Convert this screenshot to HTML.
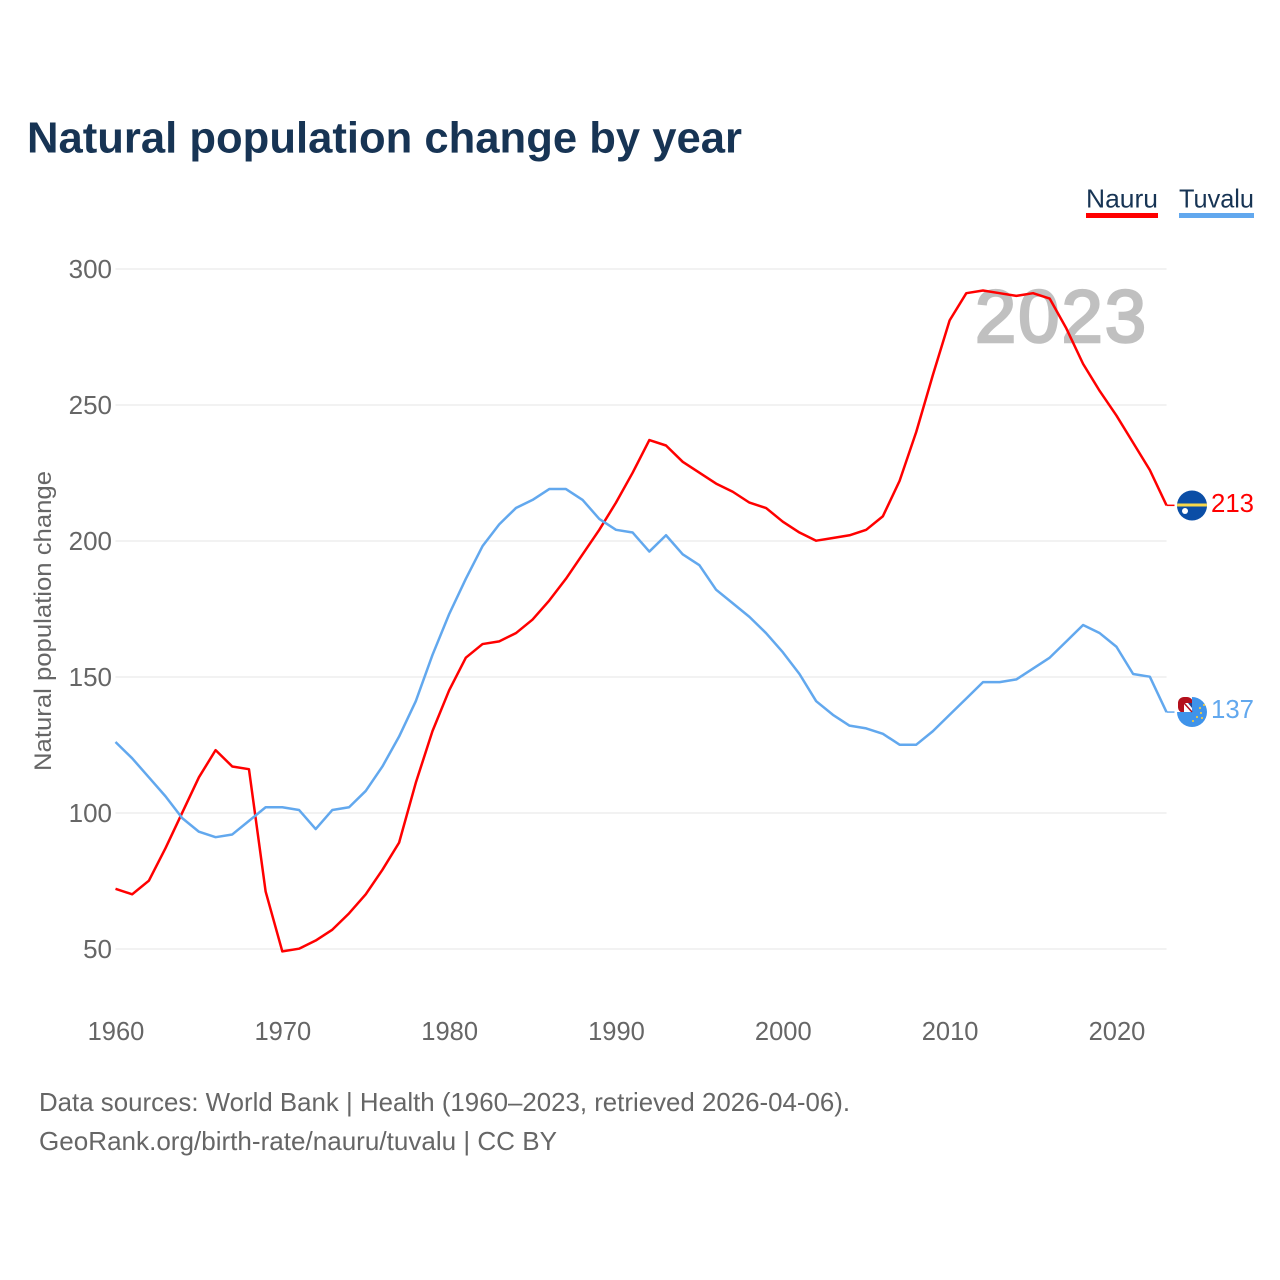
<!DOCTYPE html>
<html lang="en">
<head>
<meta charset="utf-8">
<title>Natural population change by year</title>
<style>
html,body{margin:0;padding:0;background:#fff;}
svg{display:block;font-family:"Liberation Sans",sans-serif;}
</style>
</head>
<body>
<svg id="chart" xmlns="http://www.w3.org/2000/svg" width="1280" height="1280" viewBox="0 0 1280 1280">
  <defs>
    <clipPath id="clip-nauru"><circle cx="1192" cy="505.500" r="15"/></clipPath>
    <clipPath id="clip-tuvalu"><circle cx="1192" cy="712" r="15"/></clipPath>
  </defs>
  <text x="27" y="152.500" font-size="44" font-weight="700" fill="#173454" textLength="715" lengthAdjust="spacingAndGlyphs">Natural population change by year</text>

  <g id="grid"></g>
  <g id="y-ticks"></g>
  <g id="x-ticks"></g>
  <text transform="translate(51,771) rotate(-90)" font-size="24" fill="#666" textLength="300" lengthAdjust="spacingAndGlyphs">Natural population change</text>

  <text x="975" y="342" font-size="74" font-weight="400" fill="#c0c0c0" stroke="#c0c0c0" stroke-width="2.600" textLength="171" lengthAdjust="spacing">2023</text>

  <g id="series"></g>

  <g>
    <text x="1086" y="207.500" font-size="26" fill="#173454" textLength="72" lengthAdjust="spacingAndGlyphs">Nauru</text>
    <rect x="1086" y="213" width="72" height="5" fill="#ff0000"/>
  </g>
  <g>
    <text x="1179" y="207.500" font-size="26" fill="#173454" textLength="75" lengthAdjust="spacingAndGlyphs">Tuvalu</text>
    <rect x="1179" y="213" width="75" height="5" fill="#62a8ee"/>
  </g>

  <g clip-path="url(#clip-nauru)">
    <rect x="1176" y="490" width="32" height="32" fill="#0b4ea6"/>
    <rect x="1176" y="503.500" width="32" height="3" fill="#f8d84a"/>
    <circle cx="1185" cy="511" r="3" fill="#fff"/>
  </g>
  <g>
    <rect x="1178" y="697" width="15" height="16" rx="6" fill="#b3101c"/>
    <g clip-path="url(#clip-tuvalu)">
      <path d="M1177 712 L1192 712 L1192 697 L1230 697 L1230 730 L1177 730 Z" fill="#3f93ea"/>
      <rect x="1184" y="703" width="8" height="9" fill="#fff"/>
      <path d="M1184 703 L1192 712" stroke="#b3101c" stroke-width="1.500"/>
      <path d="M1188 703 L1192 703 L1192 708 Z" fill="#24408e"/>
      <circle cx="1200" cy="708" r="1.100" fill="#e8c84a"/>
      <circle cx="1204" cy="705" r="1.100" fill="#e8c84a"/>
      <circle cx="1201" cy="713" r="1.100" fill="#e8c84a"/>
      <circle cx="1197" cy="717" r="1.100" fill="#e8c84a"/>
      <circle cx="1202" cy="718" r="1.100" fill="#e8c84a"/>
      <circle cx="1193" cy="721" r="1.100" fill="#e8c84a"/>
    </g>
  </g>

  <text x="1211" y="512" font-size="26" fill="#ff0000" textLength="43" lengthAdjust="spacingAndGlyphs">213</text>
  <text x="1211" y="718" font-size="26" fill="#62a8ee" textLength="43" lengthAdjust="spacingAndGlyphs">137</text>

  <text x="39" y="1111" font-size="26" fill="#666" textLength="811" lengthAdjust="spacingAndGlyphs">Data sources: World Bank | Health (1960–2023, retrieved 2026-04-06).</text>
  <text x="39" y="1150" font-size="26" fill="#666" textLength="518" lengthAdjust="spacingAndGlyphs">GeoRank.org/birth-rate/nauru/tuvalu | CC BY</text>
</svg>
<script>
const startYear = 1960;
const nauruValues = [72,70,75,87,100,113,123,117,116,71,49,50,53,57,63,70,79,89,111,130,145,157,162,163,166,171,178,186,195,204,214,225,237,235,229,225,221,218,214,212,207,203,200,201,202,204,209,222,240,261,281,291,292,291,290,291,289,278,265,255,246,236,226,213];
const tuvaluValues = [126,120,113,106,98,93,91,92,97,102,102,101,94,101,102,108,117,128,141,158,173,186,198,206,212,215,219,219,215,208,204,203,196,202,195,191,182,177,172,166,159,151,141,136,132,131,129,125,125,130,136,142,148,148,149,153,157,163,169,166,161,151,150,137];
const yTickValues = [50,100,150,200,250,300];
const xTickValues = [1960,1970,1980,1990,2000,2010,2020];

const NS = 'http://www.w3.org/2000/svg';
function xScale(year){ return 115.500 + (year - 1960) * (1166.500 - 115.500) / 63; }
function yScale(v){ return 949 - (v - 50) * (949 - 269) / 250; }

const grid = document.getElementById('grid');
const yG = document.getElementById('y-ticks');
const xG = document.getElementById('x-ticks');

yTickValues.forEach(function(v){
  const line = document.createElementNS(NS, 'line');
  
  
  line.setAttribute('x1', 115.500);
  line.setAttribute('x2', 1166.500);
  line.setAttribute('y1', yScale(v));
  line.setAttribute('y2', yScale(v));
  line.setAttribute('stroke', '#e4e4e4');
  line.setAttribute('stroke-width', '1');
  grid.appendChild(line);
  const t = document.createElementNS(NS, 'text');
  
  
  t.setAttribute('x', 112);
  t.setAttribute('y', yScale(v) + 9);
  t.setAttribute('text-anchor', 'end');
  t.setAttribute('font-size', '26');
  t.setAttribute('fill', '#666');
  t.textContent = String(v);
  yG.appendChild(t);
});

xTickValues.forEach(function(y){
  const t = document.createElementNS(NS, 'text');
  
  
  t.setAttribute('x', xScale(y) + 0.500);
  t.setAttribute('y', 1040);
  t.setAttribute('text-anchor', 'middle');
  t.setAttribute('font-size', '25.500');
  t.setAttribute('fill', '#666');
  t.textContent = String(y);
  xG.appendChild(t);
});

function drawSeries(values, colour, name){
  const g = document.getElementById('series');
  const pts = values.map(function(v, i){
    return xScale(startYear + i).toFixed(2) + ',' + (yScale(v) - 0.3).toFixed(2);
  });
  const last = yScale(values[values.length - 1]) - 0.3;
  const line = document.createElementNS(NS, 'polyline');
  
  
  line.setAttribute('points', pts.join(' '));
  line.setAttribute('fill', 'none');
  line.setAttribute('stroke', colour);
  line.setAttribute('stroke-width', '2.500');
  line.setAttribute('stroke-linejoin', 'round');
  g.appendChild(line);
  const lead = document.createElementNS(NS, 'line');
  
  
  lead.setAttribute('x1', xScale(startYear + values.length - 1));
  lead.setAttribute('x2', xScale(startYear + values.length - 1) + 8);
  lead.setAttribute('y1', last);
  lead.setAttribute('y2', last);
  lead.setAttribute('stroke', colour);
  lead.setAttribute('stroke-width', '1.500');
  g.appendChild(lead);
}
drawSeries(nauruValues, '#ff0000', 'nauru');
drawSeries(tuvaluValues, '#62a8ee', 'tuvalu');
</script>
</body>
</html>
